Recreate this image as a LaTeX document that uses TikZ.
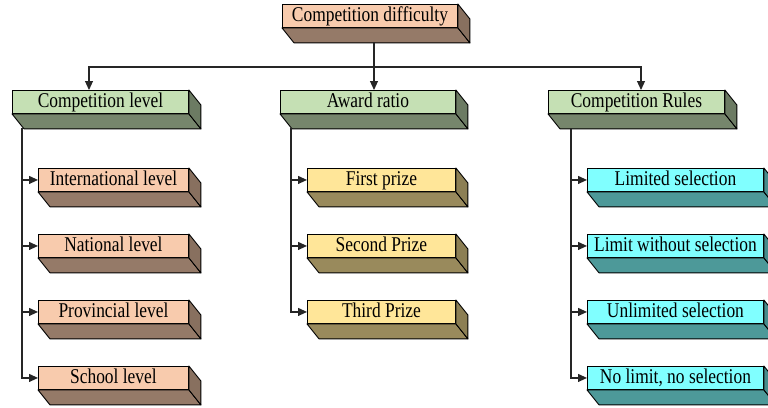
\documentclass[tikz,border=0pt]{standalone}
\usepackage{fontspec}
\setmainfont{Liberation Serif}[FakeStretch=0.83]
\usetikzlibrary{arrows.meta,calc}

\definecolor{peach}{HTML}{F8CBAD}
\definecolor{sage}{HTML}{C5E0B4}
\definecolor{gold}{HTML}{FFE699}
\definecolor{aqua}{HTML}{80FFFF}

\tikzset{
  face/.style={draw=black, line width=0.9pt, rectangle, inner sep=0pt,
    minimum height=23pt, text height=16pt, text depth=4pt,
    anchor=north west, align=center,
    font=\fontsize{21}{22}\selectfont},
  peachbox/.style={face, fill=peach},
  sagebox/.style={face, fill=sage},
  goldbox/.style={face, fill=gold},
  aquabox/.style={face, fill=aqua},
  link/.style={draw=black!85, line width=1.1pt},
  arr/.style={link, -{Triangle[length=9pt,width=8pt]}},
}

% bottom and right faces of a block: node name, base colour
\newcommand\blockdepth[2]{%
  \draw[line width=0.9pt, fill=#2!60!black, line join=round]
    (#1.south west) -- (#1.south east) -- ($(#1.south east)+(12,15)$)
    -- ($(#1.south west)+(12,15)$) -- cycle;
  \draw[line width=0.9pt, fill=#2!55!black, line join=round]
    (#1.north east) -- ($(#1.north east)+(12,15)$)
    -- ($(#1.south east)+(12,15)$) -- (#1.south east) -- cycle;
}

\begin{document}
\begin{tikzpicture}[x=1pt,y=-1pt]
\useasboundingbox (0,0) rectangle (768,407);
\clip (0,0) rectangle (768,407);

% root
\node[peachbox, minimum width=175pt] (top) at (282,4) {Competition difficulty};
\blockdepth{top}{peach}

% second level
\node[sagebox, minimum width=176pt] (lvl) at (12,90) {Competition level};
\node[sagebox, minimum width=175pt] (awd) at (280,90) {Award ratio};
\node[sagebox, minimum width=176pt] (rul) at (548,90) {Competition Rules};
\blockdepth{lvl}{sage}
\blockdepth{awd}{sage}
\blockdepth{rul}{sage}

% competition levels
\node[peachbox, minimum width=150pt] (intl) at (38,168) {International level};
\node[peachbox, minimum width=150pt] (natl) at (38,234) {National level};
\node[peachbox, minimum width=150pt] (prov) at (38,300) {Provincial level};
\node[peachbox, minimum width=150pt] (schl) at (38,366) {School level};
\foreach \n in {intl,natl,prov,schl} {\blockdepth{\n}{peach}}

% award ratio
\node[goldbox, minimum width=148pt] (first) at (307,168) {First prize};
\node[goldbox, minimum width=148pt] (second) at (307,234) {Second Prize};
\node[goldbox, minimum width=148pt] (third) at (307,300) {Third Prize};
\foreach \n in {first,second,third} {\blockdepth{\n}{gold}}

% competition rules
\node[aquabox, minimum width=176pt] (lim) at (587,168) {Limited selection};
\node[aquabox, minimum width=176pt] (lws) at (587,234) {Limit without selection};
\node[aquabox, minimum width=176pt] (unl) at (587,300) {Unlimited selection};
\node[aquabox, minimum width=176pt] (nol) at (587,366) {No limit, no selection};
\foreach \n in {lim,lws,unl,nol} {\blockdepth{\n}{aqua}}

% junction points
\coordinate (topfoot) at (374,42);
\coordinate (hub) at (374,67);
\coordinate (lvlin) at (89,90);
\coordinate (awdin) at (374,90);
\coordinate (rulin) at (641,90);
\coordinate (lvlfoot) at (22,128);
\coordinate (awdfoot) at (291,128);
\coordinate (rulfoot) at (571,128);

% root to second level
\draw[link] (topfoot) -- (hub);
\draw[arr] (hub) -| (lvlin);
\draw[arr] (hub) -- (awdin);
\draw[arr] (hub) -| (rulin);

% second level to leaves
\foreach \n in {intl,natl,prov,schl} {\draw[arr] (lvlfoot) |- (\n.west);}
\foreach \n in {first,second,third} {\draw[arr] (awdfoot) |- (\n.west);}
\foreach \n in {lim,lws,unl,nol} {\draw[arr] (rulfoot) |- (\n.west);}
\end{tikzpicture}
\end{document}
